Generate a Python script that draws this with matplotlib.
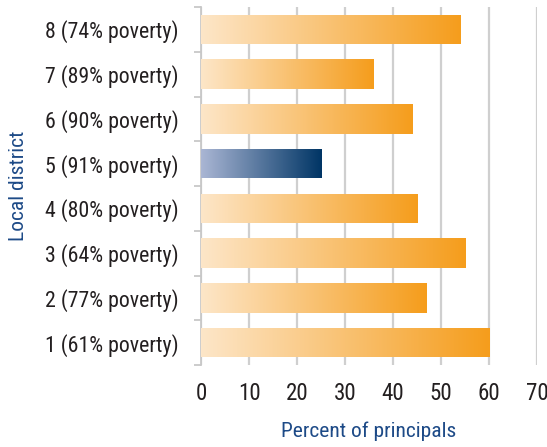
import numpy as np
import matplotlib
matplotlib.use('Agg')
import matplotlib.pyplot as plt
from matplotlib import font_manager
from matplotlib.colors import LinearSegmentedColormap

# --- Dados ---
districts = ['1 (61% poverty)', '2 (77% poverty)', '3 (64% poverty)', '4 (80% poverty)',
             '5 (91% poverty)', '6 (90% poverty)', '7 (89% poverty)', '8 (74% poverty)']
percent = [60, 47, 55, 45, 25, 44, 36, 54]
highlight = '5 (91% poverty)'
x_ticks = [0, 10, 20, 30, 40, 50, 60, 70]

# --- Fonte estreita (a referência usa uma fonte condensada) ---
ttf = font_manager.fontManager.ttflist
available = {f.name for f in ttf}
narrow = None
for cand in ['Liberation Sans Narrow', 'Roboto Condensed', 'Noto Sans Condensed',
             'Open Sans Condensed', 'DejaVu Sans Condensed']:
    if cand in available:
        narrow = cand
        break
if narrow is None:
    for f in ttf:
        if ('Narrow' in f.name or 'Condensed' in f.name) and f.weight in (400, 'normal', 'regular'):
            narrow = f.name
            break
FONT = [narrow, 'DejaVu Sans'] if narrow else ['Liberation Sans', 'DejaVu Sans']

TEXT_COLOR = '#231f20'
LABEL_COLOR = '#1d4a87'
GRID_COLOR = '#cfcfcf'
orange_cmap = LinearSegmentedColormap.from_list('orange', ['#fde6c8', '#f59d1c'])
blue_cmap = LinearSegmentedColormap.from_list('blue', ['#aab6d4', '#003565'])

plt.rcParams['font.family'] = FONT

fig = plt.figure(figsize=(5.47, 4.47), dpi=100)
ax = fig.add_axes([0.3675, 0.1834, 0.6143, 0.8009])

# tamanhos de fonte ajustados às larguras medidas na referência
renderer = fig.canvas.get_renderer()


def fit_size(text, target_px, max_size=17.0):
    probe = fig.text(0, 0, text, fontsize=16)
    w = probe.get_window_extent(renderer).width
    probe.remove()
    return min(max_size, 16.0 * target_px / w)


fs_y = fit_size('8 (74% poverty)', 134)
fs_lab = fit_size('Percent of principals', 176)
fs_x = fs_y * 1.05

y = np.arange(len(districts))
bars = ax.barh(y, percent, height=0.66, color='none', edgecolor='none')

# preenchimento em degradê dentro de cada barra
gradient = np.linspace(0, 1, 256).reshape(1, -1)
for name, bar in zip(districts, bars):
    x0, y0 = bar.get_x(), bar.get_y()
    w, h = bar.get_width(), bar.get_height()
    cmap = blue_cmap if name == highlight else orange_cmap
    im = ax.imshow(gradient, cmap=cmap, aspect='auto',
                   extent=[x0, x0 + w, y0, y0 + h], zorder=3)
    im.set_clip_path(bar)

ax.set_xlim(0, 70)
ax.set_ylim(-0.5, len(districts) - 0.5)

ax.set_xticks(x_ticks)
ax.set_yticks(y)
ax.set_yticklabels(districts)
ax.set_yticks(np.arange(-0.5, len(districts)), minor=True)

ax.grid(axis='x', color=GRID_COLOR, linewidth=1.6, zorder=0)
ax.set_axisbelow(True)

for side in ['top', 'right', 'bottom']:
    ax.spines[side].set_visible(False)
ax.spines['left'].set_color('#c8c8c8')
ax.spines['left'].set_linewidth(1.3)

ax.tick_params(axis='x', length=0, pad=12, labelsize=fs_x, labelcolor=TEXT_COLOR)
ax.tick_params(axis='y', which='major', length=0, pad=16, labelsize=fs_y, labelcolor=TEXT_COLOR)
ax.tick_params(axis='y', which='minor', length=5, width=1.3, color='#c8c8c8')

ax.set_xlabel('Percent of principals', fontsize=fs_lab, color=LABEL_COLOR, labelpad=12)
ax.set_ylabel('Local district', fontsize=fs_lab, color=LABEL_COLOR)
ax.yaxis.set_label_coords(-0.515, 0.5)

fig.savefig('out.png', dpi=100)
